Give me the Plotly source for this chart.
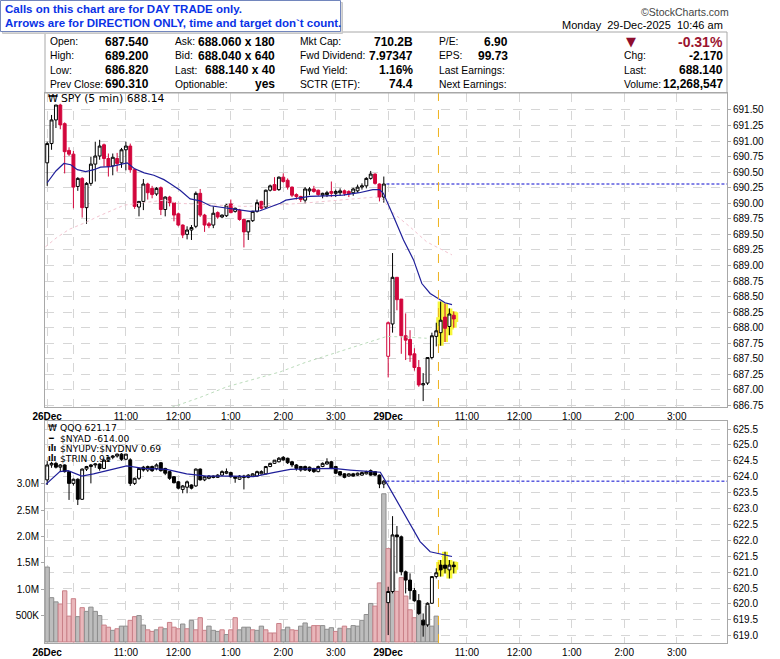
import plotly.graph_objects as go

W, H = 780, 659
SANS = "Liberation Sans"
LEG = "DejaVu Sans"

# 5-min bars: 0-77 = Fri 26-Dec session, 78-93 = Mon 29-Dec (9:30 .. 10:45)
spy_open = [690.65, 690.96, 691.34, 691.58, 691.28, 690.85, 690.79, 690.27, 690.40, 689.93,
            690.32, 690.63, 690.76, 690.94, 690.72, 690.60, 690.72, 690.65, 690.86, 690.92,
            690.54, 689.94, 690.03, 690.31, 690.24, 690.15, 690.25, 689.90, 690.10, 690.01,
            689.83, 689.65, 689.50, 689.57, 689.63, 690.16, 689.81, 689.67, 689.65, 689.85,
            689.78, 689.80, 689.99, 689.87, 689.89, 689.74, 689.54, 689.72, 689.87, 690.03,
            689.94, 690.21, 690.30, 690.22, 690.42, 690.37, 690.26, 690.14, 690.11, 690.05,
            690.20, 690.23, 690.21, 690.13, 690.14, 690.19, 690.16, 690.17, 690.20, 690.19,
            690.17, 690.20, 690.26, 690.28, 690.40, 690.47, 690.31, 690.10,
            687.54, 688.06, 688.81, 688.46, 687.87, 687.81, 687.58, 687.36, 687.08, 687.11,
            687.52, 687.86, 687.92, 688.17, 688.02, 688.20]
spy_high = [690.99, 691.42, 691.58, 691.60, 691.30, 690.90, 690.84, 690.42, 690.42, 690.34,
            690.75, 690.99, 691.02, 690.96, 690.80, 690.80, 690.81, 690.89, 690.99, 690.96,
            690.56, 690.03, 690.39, 690.33, 690.28, 690.26, 690.27, 690.11, 690.12, 690.02,
            689.85, 689.66, 689.63, 689.65, 690.19, 690.23, 689.83, 689.70, 689.95, 689.87,
            689.82, 689.99, 690.06, 689.93, 689.91, 689.75, 689.72, 689.88, 690.06, 690.04,
            690.22, 690.30, 690.42, 690.43, 690.48, 690.40, 690.27, 690.16, 690.12, 690.26,
            690.26, 690.28, 690.22, 690.17, 690.20, 690.35, 690.22, 690.24, 690.22, 690.21,
            690.25, 690.30, 690.32, 690.42, 690.52, 690.48, 690.32, 690.43,
            688.10, 689.20, 688.81, 688.46, 688.23, 687.96, 687.67, 687.48, 687.27, 687.52,
            687.92, 688.08, 688.42, 688.39, 688.31, 688.26]
spy_low = [690.28, 690.86, 691.21, 691.19, 690.48, 690.76, 689.92, 690.20, 689.77, 689.67,
           690.28, 690.35, 690.70, 690.59, 690.43, 690.45, 690.51, 690.57, 690.53, 690.49,
           689.91, 689.79, 689.89, 690.06, 690.08, 690.12, 689.81, 689.79, 689.95, 689.71,
           689.63, 689.44, 689.42, 689.41, 689.60, 689.78, 689.54, 689.60, 689.60, 689.75,
           689.76, 689.78, 689.84, 689.85, 689.72, 689.29, 689.41, 689.70, 689.85, 689.90,
           689.92, 690.19, 690.20, 690.20, 690.33, 690.22, 690.10, 690.06, 690.02, 690.00,
           690.13, 690.17, 690.12, 690.08, 690.10, 690.10, 690.10, 690.12, 690.12, 690.10,
           690.12, 690.17, 690.22, 690.24, 690.38, 690.30, 690.03, 690.01,
           687.20, 687.92, 688.28, 687.58, 687.48, 687.45, 687.31, 687.05, 686.82, 687.08,
           687.49, 687.70, 687.71, 687.77, 687.88, 688.00]
spy_close = [690.96, 691.34, 691.58, 691.26, 690.83, 690.79, 690.26, 690.40, 689.93, 690.32,
             690.63, 690.76, 690.92, 690.72, 690.59, 690.74, 690.64, 690.86, 690.92, 690.54,
             689.95, 690.03, 690.31, 690.17, 690.14, 690.24, 689.90, 690.10, 690.01, 689.81,
             689.65, 689.49, 689.57, 689.61, 690.16, 689.81, 689.65, 689.64, 689.84, 689.78,
             689.81, 689.97, 689.85, 689.92, 689.74, 689.54, 689.72, 689.87, 690.01, 689.92,
             690.21, 690.28, 690.21, 690.42, 690.35, 690.26, 690.13, 690.11, 690.06, 690.23,
             690.23, 690.19, 690.14, 690.16, 690.17, 690.16, 690.19, 690.20, 690.16, 690.15,
             690.23, 690.26, 690.28, 690.40, 690.47, 690.32, 690.10, 690.31,
             688.08, 688.81, 688.45, 687.87, 687.80, 687.56, 687.36, 687.08, 687.10, 687.52,
             687.87, 687.95, 688.12, 687.99, 688.22, 688.14]

qqq_open = [623.90, 624.37, 624.42, 624.30, 624.37, 624.16, 623.79, 623.92, 623.29, 624.24,
            624.32, 624.37, 624.40, 624.26, 624.52, 624.61, 624.65, 624.71, 624.55, 624.53,
            623.79, 623.95, 624.30, 624.21, 624.32, 624.26, 624.44, 624.26, 624.16, 624.00,
            623.84, 623.60, 623.67, 623.74, 623.71, 624.24, 623.90, 623.95, 624.02, 623.98,
            624.05, 624.11, 624.13, 624.00, 623.92, 624.02, 623.98, 624.02, 624.02, 624.09,
            624.09, 624.32, 624.42, 624.47, 624.61, 624.58, 624.47, 624.37, 624.32, 624.32,
            624.30, 624.26, 624.16, 624.32, 624.40, 624.47, 624.32, 624.16, 624.09, 624.02,
            624.09, 624.05, 624.05, 624.09, 624.19, 624.16, 624.05, 623.77,
            620.04, 620.39, 622.17, 622.11, 621.01, 620.75, 620.42, 620.10, 619.49, 619.34,
            620.02, 620.86, 621.22, 621.22, 621.07, 621.22]
qqq_high = [624.49, 624.47, 624.47, 624.40, 624.39, 624.18, 623.94, 623.95, 624.26, 624.34,
            624.40, 624.42, 624.42, 624.55, 624.62, 624.68, 624.73, 624.74, 624.72, 624.58,
            623.97, 624.28, 624.34, 624.35, 624.35, 624.42, 624.46, 624.28, 624.18, 624.02,
            623.86, 623.74, 623.88, 623.76, 624.26, 624.26, 624.02, 624.05, 624.04, 624.08,
            624.20, 624.26, 624.16, 624.02, 624.05, 624.06, 624.08, 624.11, 624.19, 624.20,
            624.34, 624.44, 624.52, 624.62, 624.65, 624.60, 624.50, 624.40, 624.34, 624.35,
            624.32, 624.28, 624.35, 624.45, 624.58, 624.50, 624.34, 624.18, 624.11, 624.11,
            624.12, 624.13, 624.16, 624.19, 624.23, 624.18, 624.07, 623.90,
            620.54, 622.76, 622.45, 622.15, 621.05, 620.96, 620.50, 620.31, 619.70, 620.05,
            620.86, 621.12, 621.38, 621.64, 621.38, 621.33]
qqq_low = [623.74, 624.28, 624.26, 624.16, 624.13, 623.27, 623.72, 623.11, 623.27, 624.18,
           623.79, 624.28, 624.19, 624.24, 624.47, 624.55, 624.60, 624.50, 624.52, 623.71,
           623.74, 623.90, 624.16, 624.15, 624.15, 624.20, 624.16, 624.05, 623.90, 623.79,
           623.60, 623.48, 623.48, 623.60, 623.68, 623.88, 623.86, 623.92, 623.95, 623.96,
           624.02, 624.08, 623.97, 623.81, 623.90, 623.60, 623.95, 624.00, 624.00, 624.07,
           624.07, 624.30, 624.40, 624.45, 624.50, 624.40, 624.30, 624.19, 624.16, 624.18,
           624.15, 624.12, 624.14, 624.30, 624.38, 624.24, 624.08, 624.02, 623.95, 624.00,
           624.00, 624.03, 624.03, 624.07, 624.03, 624.02, 623.64, 623.64,
           619.02, 620.33, 620.96, 620.90, 620.33, 620.14, 620.07, 619.65, 618.97, 619.28,
           620.00, 620.80, 620.86, 620.96, 620.80, 620.96]
qqq_close = [624.37, 624.42, 624.30, 624.37, 624.16, 623.79, 623.92, 623.29, 624.24, 624.32,
             624.37, 624.40, 624.26, 624.52, 624.61, 624.65, 624.71, 624.55, 624.71, 623.79,
             623.95, 624.26, 624.21, 624.32, 624.19, 624.37, 624.19, 624.11, 623.95, 623.81,
             623.64, 623.71, 623.84, 623.64, 624.24, 623.90, 624.00, 624.02, 623.98, 624.05,
             624.16, 624.16, 624.00, 623.95, 624.02, 623.98, 624.05, 624.09, 624.16, 624.16,
             624.32, 624.42, 624.52, 624.58, 624.53, 624.44, 624.37, 624.26, 624.21, 624.21,
             624.19, 624.16, 624.32, 624.42, 624.47, 624.26, 624.11, 624.05, 623.98, 624.09,
             624.02, 624.11, 624.13, 624.16, 624.05, 624.05, 623.77, 623.86,
             620.39, 622.17, 622.11, 621.01, 620.75, 620.42, 620.10, 619.70, 619.34, 620.02,
             620.86, 620.98, 621.07, 621.12, 621.22, 621.17]

# volume bars (millions) and whether the bar is drawn pink (1) or grey (0)
vol_m = [1.42, 0.84, 0.76, 0.72, 0.97, 0.49, 0.82, 0.48, 0.65, 0.58,
         0.66, 0.58, 0.50, 0.32, 0.28, 0.22, 0.25, 0.30, 0.30, 0.41,
         0.48, 0.50, 0.32, 0.23, 0.20, 0.23, 0.28, 0.25, 0.37, 0.28,
         0.25, 0.34, 0.25, 0.41, 0.23, 0.46, 0.22, 0.30, 0.22, 0.20,
         0.23, 0.14, 0.23, 0.46, 0.23, 0.28, 0.28, 0.23, 0.22, 0.30,
         0.23, 0.17, 0.17, 0.35, 0.23, 0.28, 0.23, 0.22, 0.30, 0.36,
         0.28, 0.31, 0.31, 0.31, 0.24, 0.27, 0.20, 0.26, 0.30, 0.25,
         0.31, 0.30, 0.41, 0.52, 0.73, 0.68, 1.12, 2.81,
         1.77, 1.33, 0.96, 1.22, 0.87, 0.61, 0.46, 0.78, 0.31, 0.68, 0.30, 0.49]
vol_pink = [0, 0, 0, 1, 1, 1, 1, 0, 1, 0,
            0, 0, 0, 1, 1, 0, 1, 0, 0, 1,
            1, 0, 0, 1, 1, 0, 1, 0, 1, 1,
            1, 0, 1, 0, 1, 1, 1, 0, 0, 0,
            1, 0, 1, 1, 0, 0, 0, 1, 0, 0,
            1, 1, 1, 1, 0, 0, 1, 1, 0, 0,
            0, 1, 1, 0, 0, 0, 1, 0, 1, 0,
            0, 0, 0, 0, 0, 1, 1, 0,
            1, 0, 1, 1, 1, 1, 1, 0, 0, 0, 0, 0]

# moving averages (bar index, value)
spy_ma_x = [0, 2, 3.8, 5.4, 6.9, 8.8, 10.7, 12.2, 14.5, 16.8, 18.3, 19.9, 22.2, 24.4, 26.7,
            28.1, 30.4, 32.7, 35.0, 37.3, 39.5, 41.8, 44.1, 46.4, 48.7, 51.0, 53.3, 54.6,
            56.9, 60.0, 63.8, 67.6, 71.4, 74.5, 76.0, 76.9, 79.2, 81.5, 83.8, 85.7, 87.6,
            89.5, 91.0, 92.6]
spy_ma_y = [690.33, 690.52, 690.64, 690.62, 690.54, 690.51, 690.54, 690.58, 690.59, 690.63,
            690.65, 690.56, 690.49, 690.45, 690.38, 690.32, 690.21, 690.07, 690.04, 689.96,
            689.94, 689.92, 689.90, 689.87, 689.88, 689.94, 690.00, 690.05, 690.08, 690.11,
            690.12, 690.13, 690.17, 690.22, 690.22, 690.16, 689.79, 689.41, 689.09, 688.71,
            688.55, 688.46, 688.40, 688.37]
spy_slow_x = [-0.4, 2.2, 5, 8.4, 12, 17.6, 22, 26.7, 30, 35, 40, 45, 50, 55, 60, 65, 70, 75,
              76.5, 79.2, 83.0, 86.8, 92.6]
spy_slow_y = [689.30, 689.45, 689.58, 689.68, 689.80, 689.97, 690.01, 690.05, 690.00, 689.98,
              689.96, 689.95, 689.96, 689.98, 690.01, 690.04, 690.07, 690.10, 690.08, 689.84,
              689.62, 689.38, 689.17]
spy_long_x = [28.5, 35, 41.1, 47, 53.3, 59, 65.5, 72, 77.7, 82, 86.8]
spy_long_y = [686.72, 686.88, 687.05, 687.17, 687.29, 687.44, 687.59, 687.74, 687.86, 687.85,
              687.83]
qqq_ma_x = [-0.3, 2.9, 4.8, 7.9, 10.6, 14.4, 18.2, 22.0, 27.3, 31.9, 36.5, 42.6, 47.2, 51.7,
            55.6, 60.1, 65.5, 69.3, 73.1, 76.2, 77.7, 80.7, 83.0, 85.3, 87.6, 89.9, 92.6]
qqq_ma_y = [623.76, 624.16, 624.19, 624.02, 624.09, 624.21, 624.34, 624.26, 624.23, 624.09,
            624.02, 624.02, 624.00, 624.13, 624.23, 624.25, 624.26, 624.21, 624.18, 624.14,
            623.79, 623.06, 622.53, 621.96, 621.64, 621.57, 621.49]

spy_prev_close = 690.31
qqq_prev_close = 623.86
highlight = [90, 91, 92, 93]

tick_idx = [0, 6, 18, 30, 42, 54, 66, 78, 84, 96, 108, 120, 132, 144]
tick_txt = ["<b>26Dec</b>", "", "11:00", "12:00", "1:00", "2:00", "3:00",
            "<b>29Dec</b>", "", "11:00", "12:00", "1:00", "2:00", "3:00"]
spy_ticks = [686.75 + 0.25 * k for k in range(20)]
qqq_ticks = [619.0 + 0.5 * k for k in range(14)]
vol_ticks = [0.5, 1.0, 1.5, 2.0, 2.5, 3.0]
vol_labels = ["500K", "1.0M", "1.5M", "2.0M", "2.5M", "3.0M"]


def px(x):
    return x / W


def py(y):
    return 1 - y / H


RED = "#d2063c"
fig = go.Figure()

# volume behind QQQ
fig.add_trace(go.Bar(
    x=list(range(len(vol_m))), y=vol_m, xaxis="x2", yaxis="y2", width=1,
    marker=dict(color=["#e9b6ba" if p else "#bdbdbd" for p in vol_pink],
                line=dict(color=["#c98088" if p else "#8e8e8e" for p in vol_pink], width=1)),
    hoverinfo="skip", showlegend=False))


def pick(idx, *cols):
    return [[col[i] for i in idx] for col in cols]


def glow(o, h, l, c, xa, ya):
    x = highlight
    oo, hh, ll, cc = pick(x, o, h, l, c)
    style = dict(fillcolor="#f6f63a", line=dict(color="#f6f63a", width=6))
    fig.add_trace(go.Candlestick(x=x, open=oo, high=hh, low=ll, close=cc, xaxis=xa, yaxis=ya,
                                 increasing=style, decreasing=style, hoverinfo="skip",
                                 showlegend=False))


glow(spy_open, spy_high, spy_low, spy_close, "x", "y")
glow(qqq_open, qqq_high, qqq_low, qqq_close, "x2", "y3")

# SPY: red when close is below previous close, hollow when close above open
black_i, red_i = [], []
for i, c in enumerate(spy_close):
    (red_i if i > 0 and c < spy_close[i - 1] else black_i).append(i)
for idx, col in ((black_i, "black"), (red_i, RED)):
    oo, hh, ll, cc = pick(idx, spy_open, spy_high, spy_low, spy_close)
    fig.add_trace(go.Candlestick(
        x=idx, open=oo, high=hh, low=ll, close=cc, xaxis="x", yaxis="y",
        increasing=dict(fillcolor="white", line=dict(color=col, width=1)),
        decreasing=dict(fillcolor=col, line=dict(color=col, width=1)),
        hoverinfo="skip", showlegend=False))

fig.add_trace(go.Candlestick(
    x=list(range(len(qqq_close))), open=qqq_open, high=qqq_high, low=qqq_low, close=qqq_close,
    xaxis="x2", yaxis="y3",
    increasing=dict(fillcolor="white", line=dict(color="black", width=1)),
    decreasing=dict(fillcolor="black", line=dict(color="black", width=1)),
    hoverinfo="skip", showlegend=False))

fig.add_trace(go.Scatter(x=spy_long_x, y=spy_long_y, mode="lines", xaxis="x", yaxis="y",
                         line=dict(color="#bcdcbc", width=1, dash="dot"), hoverinfo="skip",
                         showlegend=False))
fig.add_trace(go.Scatter(x=spy_slow_x, y=spy_slow_y, mode="lines", xaxis="x", yaxis="y",
                         line=dict(color="#f2c4d0", width=1, dash="dot"), hoverinfo="skip",
                         showlegend=False))
fig.add_trace(go.Scatter(x=spy_ma_x, y=spy_ma_y, mode="lines", xaxis="x", yaxis="y",
                         line=dict(color="#1f1f9a", width=1.2), hoverinfo="skip",
                         showlegend=False))
fig.add_trace(go.Scatter(x=qqq_ma_x, y=qqq_ma_y, mode="lines", xaxis="x2", yaxis="y3",
                         line=dict(color="#1f1f9a", width=1.2), hoverinfo="skip",
                         showlegend=False))

xdom = [px(45), px(727)]
top_dom = [py(407), py(93)]
bot_dom = [py(643), py(421)]
grid = dict(showgrid=True, gridcolor="#d6d6d6", griddash="dash", gridwidth=1)
frame = dict(showline=True, linecolor="#a8a8a8", linewidth=1, mirror=True, zeroline=False)
tickf = dict(family=SANS, size=10, color="black")

xcommon = dict(domain=xdom, range=[-0.5, 155.5], tickmode="array", tickvals=tick_idx,
               ticktext=tick_txt, tickfont=tickf, ticks="", rangeslider=dict(visible=False),
               automargin=False, **grid, **frame)

fig.update_layout(
    width=W, height=H, margin=dict(l=0, r=0, t=0, b=0),
    paper_bgcolor="white", plot_bgcolor="white", showlegend=False, boxgap=0.05,
    font=dict(family=SANS, size=10, color="black"),
    xaxis=dict(anchor="y", **xcommon),
    xaxis2=dict(anchor="y2", **xcommon),
    yaxis=dict(domain=top_dom, range=[686.725, 691.773], side="right", anchor="x",
               tickmode="array", tickvals=spy_ticks, ticktext=["%.2f" % v for v in spy_ticks],
               tickfont=tickf, ticks="outside", ticklen=3, tickcolor="#a8a8a8",
               automargin=False, **grid, **frame),
    yaxis2=dict(domain=bot_dom, range=[-0.02, 4.19], side="left", anchor="x2",
                tickmode="array", tickvals=vol_ticks, ticktext=vol_labels, tickfont=tickf,
                ticks="outside", ticklen=3, tickcolor="#a8a8a8", showgrid=False,
                automargin=False, **frame),
    yaxis3=dict(overlaying="y2", range=[618.771, 625.752], side="right", anchor="x2",
                tickmode="array", tickvals=qqq_ticks, ticktext=["%.1f" % v for v in qqq_ticks],
                tickfont=tickf, ticks="outside", ticklen=3, tickcolor="#a8a8a8",
                automargin=False, **grid, showline=False, zeroline=False),
)

prev_dash = dict(color="#0a0ad0", width=1, dash="3px,2px")
shapes = [
    dict(type="line", xref="x", yref="y", x0=77.6, x1=155.5, y0=spy_prev_close,
         y1=spy_prev_close, line=prev_dash),
    dict(type="line", xref="x2", yref="y3", x0=77.6, x1=155.5, y0=qqq_prev_close,
         y1=qqq_prev_close, line=prev_dash),
    dict(type="line", xref="x", yref="paper", x0=89.5, x1=89.5, y0=top_dom[0], y1=top_dom[1],
         line=dict(color="#efb21e", width=1, dash="dash")),
    dict(type="line", xref="x2", yref="paper", x0=89.5, x1=89.5, y0=bot_dom[0], y1=bot_dom[1],
         line=dict(color="#efb21e", width=1, dash="dash")),
    # header frame
    dict(type="rect", xref="paper", yref="paper", x0=px(45), x1=px(727), y0=py(93), y1=py(32),
         line=dict(color="#a8a8a8", width=1)),
    # note box with shadow
    dict(type="rect", xref="paper", yref="paper", x0=px(2.5), x1=px(342.5), y0=py(33.5),
         y1=py(2.5), line=dict(color="#c8c8c8", width=1), fillcolor="#d8d8d8"),
    dict(type="rect", xref="paper", yref="paper", x0=px(0.5), x1=px(340.5), y0=py(31.5),
         y1=py(0.5), line=dict(color="#7286bd", width=1), fillcolor="white"),
]
fig.update_layout(shapes=shapes)

notes = []


def note(x, y, text, anchor="left", size=11, bold=False, color="black", family=SANS):
    if bold:
        text = "<b>%s</b>" % text
    notes.append(dict(x=px(x), y=py(y), xref="paper", yref="paper", text=text,
                      xanchor=anchor, yanchor="middle", showarrow=False,
                      font=dict(family=family, size=size, color=color)))


note(3, 9, "Calls on this chart are for DAY TRADE only.", size=11.5, bold=True, color="#0a32e6")
note(3, 23, "Arrows are for DIRECTION ONLY, time and target don`t count.", size=11.5, bold=True,
     color="#0a32e6")
note(731, 12, "©StockCharts.com", anchor="right", size=10.5, color="#444444")
note(725, 25.5, "Monday  29-Dec-2025  10:46 am", anchor="right", size=11)

rows = [41.5, 55.5, 70, 84.5]
header = [
    (47.5, 151, ["Open:", "High:", "Low:", "Prev Close:"],
     ["687.540", "689.200", "686.820", "690.310"]),
    (172.5, 277, ["Ask:", "Bid:", "Last:", "Optionable:"],
     ["688.060 x 180", "688.040 x 640", "688.140 x 40", "yes"]),
    (298, 415, ["Mkt Cap:", "Fwd Dividend:", "Fwd Yield:", "SCTR (ETF):"],
     ["710.2B", "7.97347", "1.16%", "74.4"]),
    (436.5, 510, ["P/E:", "EPS:", "Last Earnings:", "Next Earnings:"],
     ["6.90", "99.73", "", ""]),
    (621.5, 725, ["", "Chg:", "Last:", "Volume:"],
     ["", "-2.170", "688.140", "12,268,547"]),
]
for lx, vx, labels, values in header:
    for y, lab, val in zip(rows, labels, values):
        if lab:
            note(lx, y, lab, size=10.3)
        if val:
            note(vx, y, val, anchor="right", size=12, bold=True)
note(631, 41.5, "▼", anchor="center", size=13, color="#8e0e2e", family=LEG)
note(725, 41.5, "-0.31%", anchor="right", size=14, bold=True, color="#9b1430")

# panel legends
note(46, 98.5, "₩", size=10, family=LEG)
note(59, 98.5, "SPY (5 min) 688.14", size=10.8, family=LEG)
note(46, 428, "₩", size=9, family=LEG)
note(58, 428, "QQQ 621.17", size=9.2, family=LEG)
note(46, 438.5, "<b>━</b>", size=8, family=LEG)
note(58, 438.5, "$NYAD -614.00", size=9.2, family=LEG)
note(46, 448.5, "<b>ılı</b>", size=8, family=LEG)
note(58, 448.5, "$NYUPV:$NYDNV 0.69", size=9.2, family=LEG)
note(46, 458.5, "<b>ılı</b>", size=8, family=LEG)
note(58, 458.5, "$TRIN 0.91", size=9.2, family=LEG)

fig.update_layout(annotations=notes)
fig.write_html("out.html", config={"displayModeBar": False},
               post_script="document.body.style.margin='0';"
                           "document.body.style.overflow='hidden';")
